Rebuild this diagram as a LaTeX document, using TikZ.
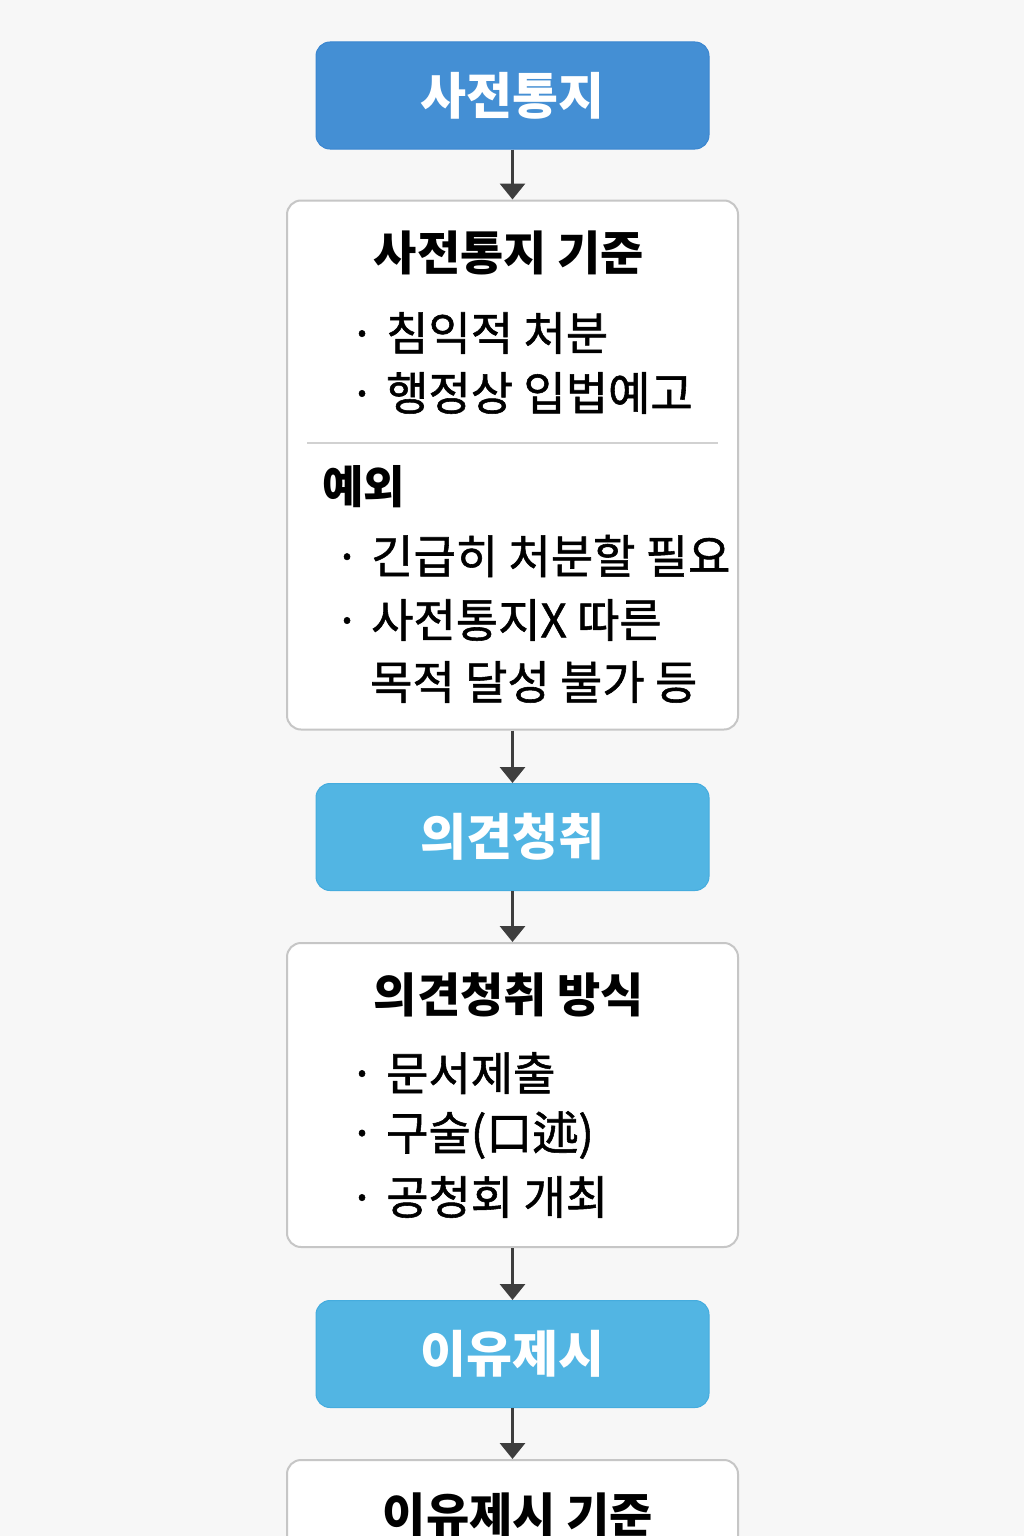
\documentclass[tikz,border=0pt]{standalone}
\usepackage{fontspec}
\setmainfont{Noto Sans CJK KR}
\newfontfamily\itemfont{Noto Sans CJK KR}[FakeBold=1.2]
\usetikzlibrary{positioning,arrows.meta}

\definecolor{pagebg}{HTML}{F7F7F7}
\definecolor{stepdark}{HTML}{448FD4}
\definecolor{stepdarkline}{HTML}{3A86D0}
\definecolor{steplight}{HTML}{52B5E3}
\definecolor{steplightline}{HTML}{45ACDE}
\definecolor{boxline}{HTML}{C6C6C6}
\definecolor{arrowgray}{HTML}{3E3E3E}

\newcommand{\itemdot}{\makebox[24pt]{·}\hspace{12pt}}

\tikzset{
	stage/.style={rounded corners=14pt,minimum width=393pt,minimum height=107pt,
		line width=1pt,text=white,font=\fontsize{50}{54}\selectfont\bfseries},
	panel/.style={draw=boxline,fill=white,rounded corners=14pt,line width=2pt,
		minimum width=451pt},
	heading/.style={inner sep=0pt,font=\fontsize{47}{52}\selectfont\bfseries},
	entry/.style={anchor=west,inner sep=0pt,font=\fontsize{46}{50}\selectfont\itemfont},
	flow/.style={draw=arrowgray,line width=3.2pt,-{Triangle[length=16pt,width=25pt]}},
}

\begin{document}
\begin{tikzpicture}[x=1pt,y=-1pt]
	
	\fill [pagebg] (0,0) rectangle (1024,1536);
	\clip (0,0) rectangle (1024,1536);
	
	%%%%%%%%%%%%%%%%%%%%%%%%%%%%%%%%%%%%%%%%%%%%%%%%%%%%%%
	
	\node [stage,fill=stepdark,draw=stepdarkline] (notice) at (512.5,95.5) {사전통지};
	
	\node [panel,minimum height=529pt,below=50pt of notice] (notice-crit) {};
	
	\node [heading] (notice-crit-text) at (509,253) {사전통지 기준};
	\node [entry] (notice-a) at (350,333) {\itemdot 침익적 처분};
	\node [entry] (notice-b) at (350,393) {\itemdot 행정상 입법예고};
	%
	\draw [boxline!80,line width=1.5pt] (307,443) -- (718,443);
	%
	\node [entry,font=\fontsize{45}{50}\selectfont\bfseries] (except-text) at (322,487) {예외};
	\node [entry] (except-a) at (335,556) {\itemdot 긴급히 처분할 필요};
	\node [entry] (except-b) at (335,620) {\itemdot 사전통지X 따른};
	\node [entry] (except-c) at (370,682) {목적 달성 불가 등};
	
	\draw [flow] (notice) -- (notice-crit);
	
	%%%%%%%%%%%%%%%%%%%%%%%%%%%%%%%%%%%%%%%%%%%%%%%%%%%%%%
	
	\node [stage,fill=steplight,draw=steplightline,below=52.5pt of notice-crit] (hearing) {의견청취};
	
	\node [panel,minimum height=304pt,below=51pt of hearing] (hearing-way) {};
	
	\node [heading] (hearing-way-text) at (509,995) {의견청취 방식};
	\node [entry] (hearing-a) at (350,1073) {\itemdot 문서제출};
	\node [entry] (hearing-b) at (350,1135) {\itemdot 구술(口述)};
	\node [entry] (hearing-c) at (350,1197) {\itemdot 공청회 개최};
	
	\draw [flow] (notice-crit) -- (hearing);
	\draw [flow] (hearing) -- (hearing-way);
	
	%%%%%%%%%%%%%%%%%%%%%%%%%%%%%%%%%%%%%%%%%%%%%%%%%%%%%%
	
	\node [stage,fill=steplight,draw=steplightline,below=52pt of hearing-way] (reason) {이유제시};
	
	\node [panel,minimum height=200pt,below=51pt of reason] (reason-crit) {};
	
	\node [heading] (reason-crit-text) at (518,1515) {이유제시 기준};
	
	\draw [flow] (hearing-way) -- (reason);
	\draw [flow] (reason) -- (reason-crit);
	
\end{tikzpicture}
\end{document}
